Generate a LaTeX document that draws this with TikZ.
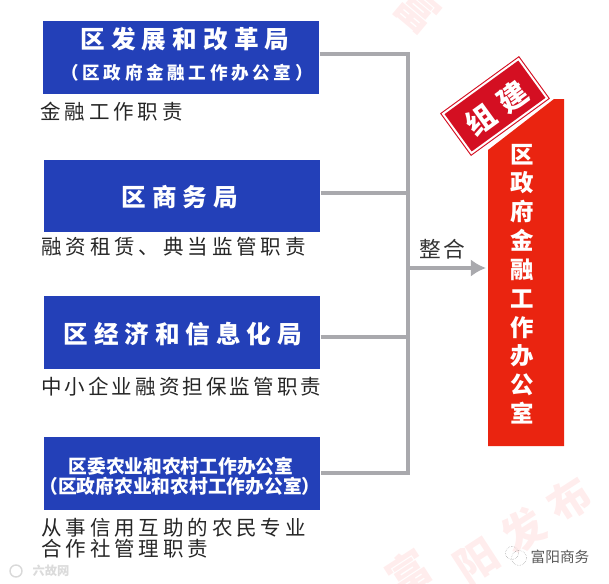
\documentclass[tikz,border=0pt]{standalone}
\usepackage{fontspec}
\usepackage{xcolor}
\usetikzlibrary{arrows.meta}
\setmainfont{Noto Sans CJK SC}
\definecolor{deptblue}{HTML}{2340B8}
\definecolor{linegray}{HTML}{A9A9AD}
\definecolor{officered}{HTML}{EA2410}
\definecolor{stampred}{HTML}{D40F22}
\tikzset{
  deptbox/.style={fill=deptblue, minimum width=8.3cm, minimum height=2.17cm, inner sep=0pt},
  deptname/.style={text=white, font=\bfseries\fontsize{21}{21}\selectfont},
  deptsub/.style={text=white, font=\bfseries\fontsize{16}{16}\selectfont},
  dutylabel/.style={anchor=west, inner sep=0pt, font=\fontsize{17.5}{20}\selectfont, text=black!85},
  link/.style={draw=linegray, line width=3.4pt},
  faintmark/.style={text=red!7, font=\bfseries\fontsize{36}{36}\selectfont}
}
\newcommand{\wide}[2]{\addfontfeature{LetterSpace=#1}#2}
\begin{document}
\begin{tikzpicture}[x=0.03cm,y=-0.03cm]
  \useasboundingbox (0,0) rectangle (609,584);
  % Faint marks
  \node[faintmark, rotate=-40] (markone) at (418,10) {富};
  \node[faintmark, rotate=33] (marktwo) at (523,530) {\wide{32}{阳发布}};
  \node[faintmark, rotate=33] (markthree) at (408,572) {富};
  % Departments
  \node[deptbox] (fazhan) at (181,57.5) {};
  \node[deptbox] (shangwu) at (182,196) {};
  \node[deptbox] (jingji) at (182,332.5) {};
  \node[deptbox] (nongye) at (182,473.5) {};
  \node[deptname] (fazhanname) at (185,39) {\wide{25}{区发展和改革局}};
  \node[deptsub, font=\bfseries\fontsize{15}{15}\selectfont] (fazhansub) at (187,73) {\wide{21}{（区政府金融工作办公室）}};
  \node[deptname] (shangwuname) at (180,197) {\wide{24}{区商务局}};
  \node[deptname] (jingjiname) at (183,334) {\wide{24}{区经济和信息化局}};
  \node[deptsub] (nongyename) at (181,466) {区委农业和农村工作办公室};
  \node[deptsub] (nongyesub) at (180,486) {（区政府农业和农村工作办公室）};
  % Duties
  \node[dutylabel] (dutyone) at (40,112) {\wide{19}{金融工作职责}};
  \node[dutylabel] (dutytwo) at (41,247) {\wide{19}{融资租赁、典当监管职责}};
  \node[dutylabel] (dutythree) at (41,387) {\wide{15}{中小企业融资担保监管职责}};
  \node[dutylabel] (dutyfour) at (41,528) {\wide{19}{从事信用互助的农民专业}};
  \node[dutylabel] (dutyfive) at (41,549) {\wide{19}{合作社管理职责}};
  % Links
  \coordinate (top) at (408,54);
  \coordinate (bottom) at (408,473);
  \coordinate (mid) at (408,268);
  \draw[link] (fazhan.east |- top) -- (top) -- (bottom) -- (nongye.east |- bottom);
  \draw[link] (shangwu.east |- 0,193) -- (408,193);
  \draw[link] (jingji.east |- 0,337) -- (408,337);
  \node[font=\fontsize{18.5}{18.5}\selectfont, text=black!80] (zhenghe) at (442,249) {\wide{10}{整合}};
  % Office
  \fill[officered] (488,446) -- (488,150) -- (554,99) -- (564,99) -- (564,446) -- cycle;
  \node[text=white, font=\bfseries\fontsize{20}{24.6}\selectfont, align=center, inner sep=0pt] (office) at (522,284) {区\\政\\府\\金\\融\\工\\作\\办\\公\\室};
  \coordinate (officein) at (486,268);
  \draw[link, -{Latex[length=13pt,width=15pt]}] (mid) -- (officein);
  % Stamp
  \node[rotate=36, fill=white, minimum width=2.95cm, minimum height=1.62cm, inner sep=0pt] (stampedge) at (495,106) {};
  \node[rotate=36, fill=stampred, draw=white, line width=1.6pt, minimum width=2.8cm, minimum height=1.45cm, inner sep=0pt] (stamp) at (495,106) {};
  \node[rotate=36, draw=stampred, line width=0.8pt, minimum width=2.9cm, minimum height=1.55cm, inner sep=0pt] (stampline) at (495,106) {};
  \node[rotate=36, text=white, font=\bfseries\fontsize{25}{25}\selectfont] (stampname) at (497,108) {\wide{34}{组建}};
  % Signature
  \draw[black!45, densely dotted] (512,553) circle (6.5);
  \draw[black!45, densely dotted] (519,558) circle (7.5);
  \node[text=black!65, font=\fontsize{12.5}{12.5}\selectfont] (sign) at (560,557) {富阳商务};
  \draw[black!15, line width=1.2pt] (16,571) circle (6);
  \node[text=black!14, font=\bfseries\fontsize{10.5}{10.5}\selectfont] (logo) at (51,571) {六故网};
\end{tikzpicture}
\end{document}
